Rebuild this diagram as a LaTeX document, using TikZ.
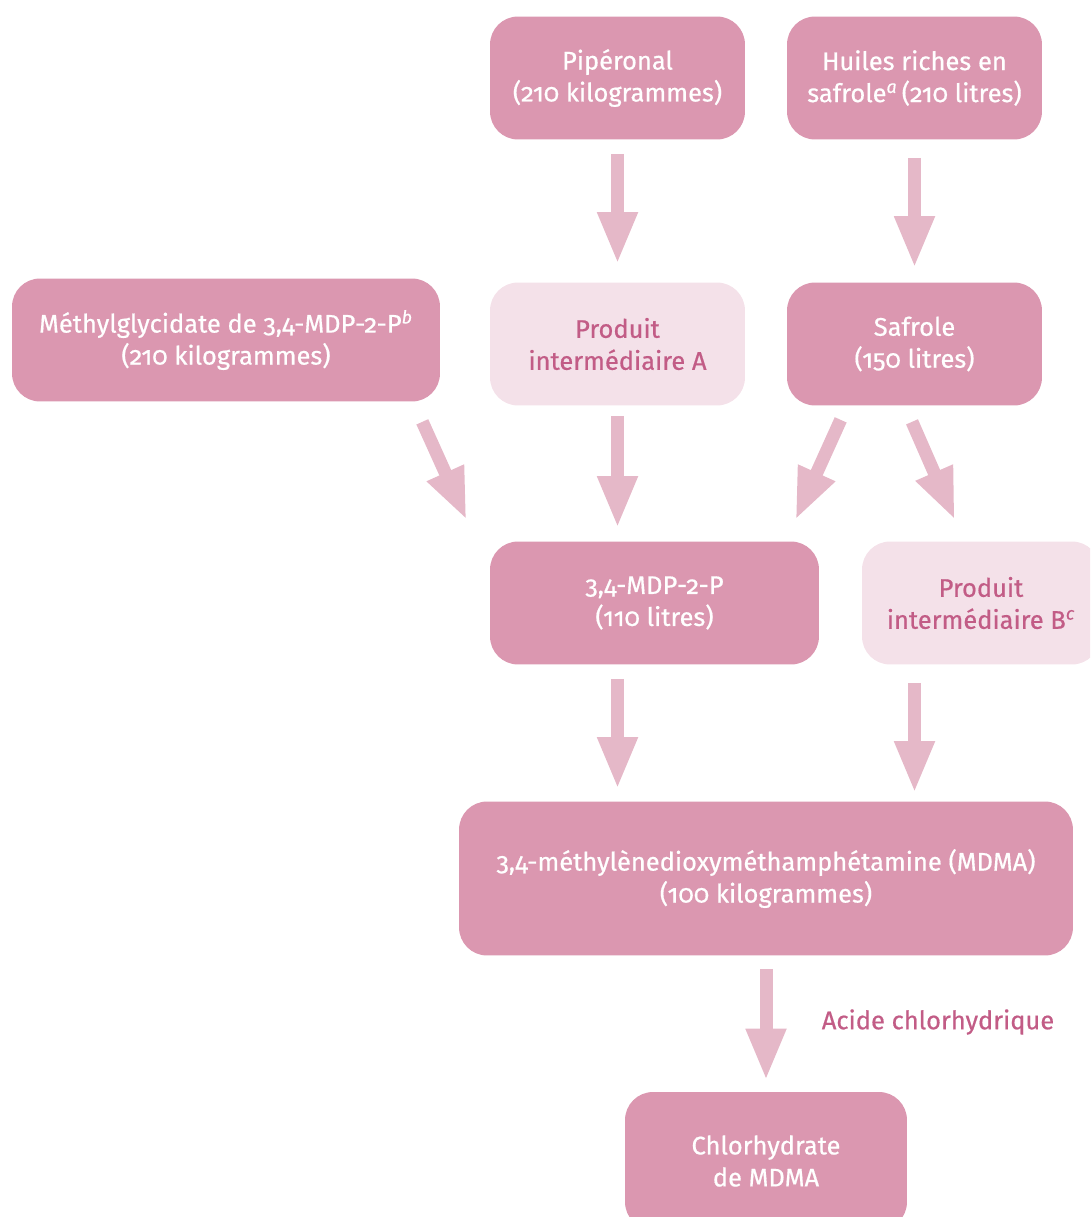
\documentclass[tikz,border=0pt]{standalone}
\usepackage{fontspec}
\setmainfont{Fira Sans}[Numbers=OldStyle, FakeBold=0.6]
\usetikzlibrary{positioning,calc,arrows.meta}
\definecolor{boxdark}{HTML}{DB97B0}
\definecolor{boxlight}{HTML}{F4E1E9}
\definecolor{flowpink}{HTML}{E5B8C8}
\definecolor{textpink}{HTML}{C25C86}
\tikzstyle{stage} = [rounded corners=0.56cm, fill=boxdark, text=white, align=center, minimum width=5.1cm, minimum height=2.46cm, font=\fontsize{14.5}{18.2}\selectfont]
\tikzstyle{inter} = [stage, fill=boxlight, text=textpink]
\tikzstyle{flow} = [line width=0.26cm, draw=flowpink, -{Triangle[width=0.74cm,length=1.04cm]}]
\newcommand{\fnote}[1]{\textsuperscript{\itshape #1}}

\begin{document}
\begin{tikzpicture}[x=0.02cm, y=-0.02cm]
    \clip (0,0) rectangle (1090,1217);
    % sources
    \node (pip) [stage] at (617.5,78) {Pipéronal\\(210 kilogrammes)};
    \node (huile) [stage] at (914.5,78) {Huiles riches en\\safrole\fnote{a}\,(210 litres)};
    % second row
    \node (glyc) [stage, minimum width=8.56cm] at (226,340) {Méthylglycidate de 3,4-MDP-2-P\fnote{b}\\(210 kilogrammes)};
    \node (interA) [inter] at (617.5,344) {Produit\\intermédiaire A};
    \node (safrole) [stage] at (914.5,344) {Safrole\\(150 litres)};
    % third row
    \node (mdp) [stage, minimum width=6.58cm] at (654.5,603) {3,4-MDP-2-P\\(110 litres)};
    \node (interB) [inter, minimum width=4.76cm] at (981,603) {Produit\\intermédiaire B\fnote{c}};
    % products
    \node (mdma) [stage, minimum width=12.28cm, minimum height=3.08cm] at (766,878.5) {3,4-méthylènedioxyméthamphétamine (MDMA)\\(100 kilogrammes)};
    \node (hcl) [stage, minimum width=5.64cm, minimum height=2.76cm] at (766,1161) {Chlorhydrate\\de MDMA};
    \node (acid) [text=textpink, font=\fontsize{14.5}{18.2}\selectfont] at (938,1022) {Acide chlorhydrique};

    \draw[flow] ($(pip.south)+(0,14)$) -- ($(interA.north)+(0,-18)$);
    \draw[flow] ($(huile.south)+(0,18)$) -- ($(safrole.north)+(0,-14)$);
    \draw[flow] ($(glyc.south east)+(-18,20)$) -- ($(mdp.north west)+(-23,-21)$);
    \draw[flow] ($(interA.south)+(0,10)$) -- ($(interA.south |- mdp.north)+(0,-13)$);
    \draw[flow] ($(safrole.south west)+(54,14)$) -- ($(mdp.north east)+(-24,-21)$);
    \draw[flow] ($(safrole.south)+(-2.5,16)$) -- ($(interB.north)+(-26,-21)$);
    \draw[flow] ($(interA.south |- mdp.south)+(0,14)$) -- ($(interA.south |- mdma.north)+(0,-12)$);
    \draw[flow] ($(safrole.south |- interB.south)+(0,18)$) -- ($(safrole.south |- mdma.north)+(0,-8)$);
    \draw[flow] ($(mdma.south)+(0,13)$) -- ($(hcl.north)+(0,-11)$);
\end{tikzpicture}
\end{document}
